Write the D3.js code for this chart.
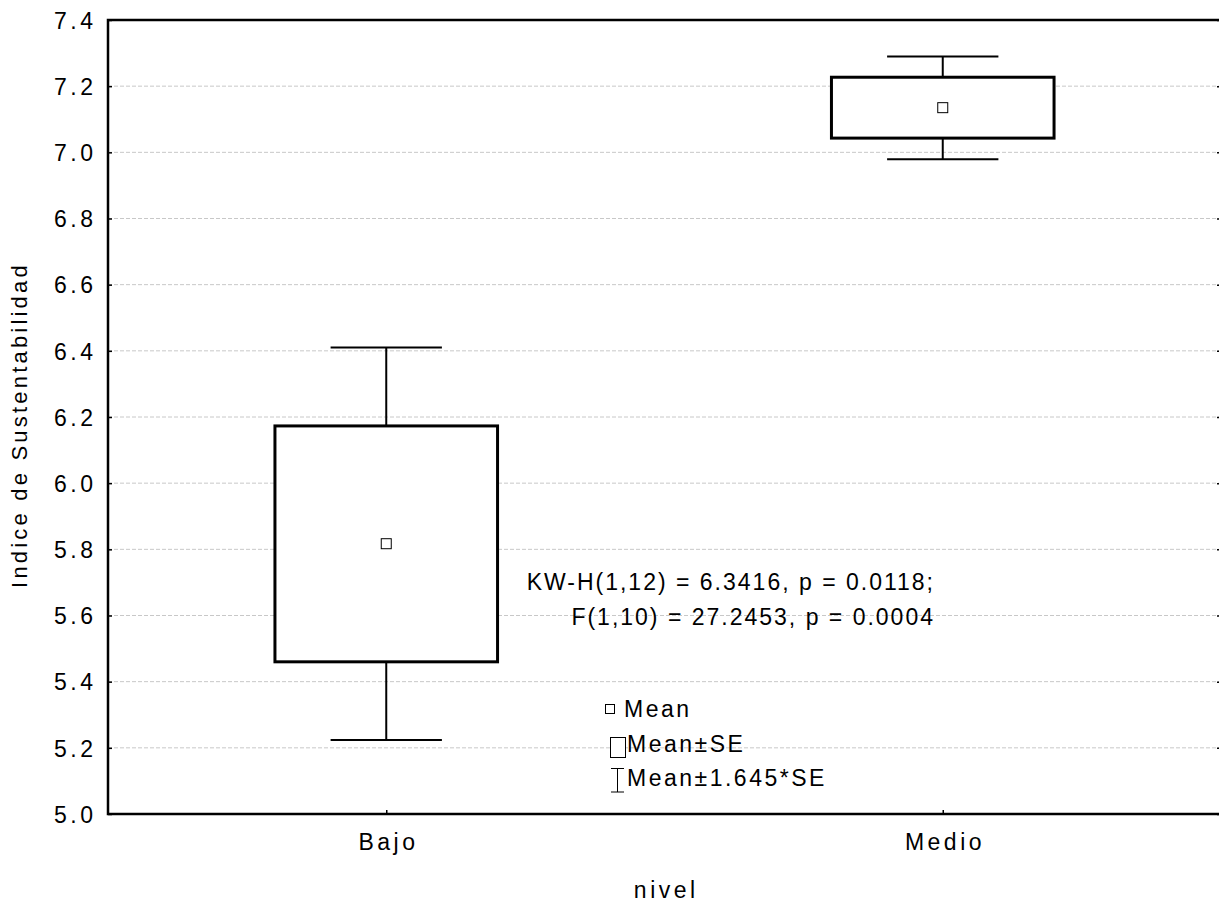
<!DOCTYPE html>
<html>
<head>
<meta charset="utf-8">
<script src="https://cdn.jsdelivr.net/npm/d3@7"></script>
<style>
  html, body { margin: 0; padding: 0; background: #ffffff; }
  svg { display: block; }
</style>
</head>
<body>
<svg id="chart"></svg>
<script>
// values
const categories = ['Bajo', 'Medio'];
const means = [5.817, 7.135];
const boxLow = [5.460, 7.043];
const boxHigh = [6.173, 7.227];
const whiskerLow = [5.224, 6.979];
const whiskerHigh = [6.410, 7.290];
const yTicks = [5.0, 5.2, 5.4, 5.6, 5.8, 6.0, 6.2, 6.4, 6.6, 6.8, 7.0, 7.2, 7.4];
const statLines = ['KW-H(1,12) = 6.3416, p = 0.0118;', 'F(1,10) = 27.2453, p = 0.0004'];
const legendLabels = ['Mean', 'Mean\u00b1SE', 'Mean\u00b11.645*SE'];

const width = 1219;
const height = 907;
const plotLeft = 108, plotRight = 1221, plotTop = 20, plotBottom = 814;
const FONT = 'Arial, "Liberation Sans", sans-serif';
const FS = '23px';
const LS = 3.5;

const svg = d3.select('#chart')
    .attr('width', width)
    .attr('height', height)
    .style('background', '#ffffff');

const x = d3.scalePoint()
    .domain(categories)
    .range([plotLeft, plotRight])
    .padding(0.5);

const y = d3.scaleLinear()
    .domain([5.0, 7.4])
    .range([plotBottom, plotTop]);

const step = x.step();
const boxW = step * 0.4;
const capW = step * 0.2;

// grid lines
svg.append('g')
    .selectAll('line')
    .data(yTicks.filter(t => t > 5.0 && t < 7.4))
    .join('line')
    .attr('x1', plotLeft)
    .attr('x2', plotRight)
    .attr('y1', d => y(d))
    .attr('y2', d => y(d))
    .attr('stroke', '#c8c8c8')
    .attr('stroke-width', 1)
    .attr('stroke-dasharray', '4,2');

// stats annotation
const stat = svg.append('text')
    .attr('font-family', FONT)
    .attr('font-size', FS)
    .attr('letter-spacing', '2px')
    .attr('text-anchor', 'end')
    .attr('fill', '#000');

statLines.forEach((line, i) => {
    stat.append('tspan')
        .attr('x', 935)
        .attr('y', 590 + i * 35)
        .text(line);
});

// axes
const yAxisLeft = d3.axisLeft(y).tickValues(yTicks).tickSize(-4).tickPadding(15)
    .tickFormat(d3.format('.1f'));
const yAxisRight = d3.axisRight(y).tickValues(yTicks).tickSize(-4).tickFormat('');
const xAxis = d3.axisBottom(x).tickSize(-4).tickPadding(20);

function styleAxis(g) {
    g.select('.domain').remove();
    g.selectAll('.tick line').attr('stroke', '#000').attr('stroke-width', 1.5);
    g.selectAll('.tick text')
        .attr('font-family', FONT)
        .attr('font-size', FS)
        .attr('letter-spacing', `${LS}px`)
        .attr('fill', '#000');
}

svg.append('g')
    .attr('transform', `translate(${plotLeft},0)`)
    .call(yAxisLeft)
    .call(styleAxis)
    .selectAll('.tick text')
    .attr('dx', `${LS}px`)
    .attr('dy', '0.36em');

svg.append('g')
    .attr('transform', `translate(${plotRight},0)`)
    .call(yAxisRight)
    .call(styleAxis);

svg.append('g')
    .attr('transform', `translate(0,${plotBottom})`)
    .call(xAxis)
    .call(styleAxis)
    .selectAll('.tick text')
    .attr('dx', `${LS / 2}px`);

// frame
svg.append('rect')
    .attr('x', plotLeft)
    .attr('y', plotTop)
    .attr('width', plotRight - plotLeft)
    .attr('height', plotBottom - plotTop)
    .attr('fill', 'none')
    .attr('stroke', '#000')
    .attr('stroke-width', 2.5);

// box plots
const groups = svg.append('g')
    .selectAll('g')
    .data(categories.map((c, i) => ({c, i})))
    .join('g');

groups.append('line')
    .attr('x1', d => x(d.c))
    .attr('x2', d => x(d.c))
    .attr('y1', d => y(whiskerHigh[d.i]))
    .attr('y2', d => y(whiskerLow[d.i]))
    .attr('stroke', '#000')
    .attr('stroke-width', 2);

groups.selectAll('line.cap')
    .data(d => [whiskerLow[d.i], whiskerHigh[d.i]].map(v => ({c: d.c, v})))
    .join('line')
    .attr('class', 'cap')
    .attr('x1', d => x(d.c) - capW / 2)
    .attr('x2', d => x(d.c) + capW / 2)
    .attr('y1', d => y(d.v))
    .attr('y2', d => y(d.v))
    .attr('stroke', '#000')
    .attr('stroke-width', 2);

groups.append('rect')
    .attr('x', d => x(d.c) - boxW / 2)
    .attr('y', d => y(boxHigh[d.i]))
    .attr('width', boxW)
    .attr('height', d => y(boxLow[d.i]) - y(boxHigh[d.i]))
    .attr('fill', '#fff')
    .attr('stroke', '#000')
    .attr('stroke-width', 3);

groups.append('rect')
    .attr('x', d => x(d.c) - 5)
    .attr('y', d => y(means[d.i]) - 5)
    .attr('width', 10)
    .attr('height', 10)
    .attr('fill', '#fff')
    .attr('stroke', '#000')
    .attr('stroke-width', 1);

// legend
const legend = svg.append('g');

legend.append('rect')
    .attr('x', 605.5).attr('y', 704.5)
    .attr('width', 9).attr('height', 9)
    .attr('fill', '#fff').attr('stroke', '#000').attr('stroke-width', 1);

legend.append('rect')
    .attr('x', 610.5).attr('y', 737.5)
    .attr('width', 15).attr('height', 20)
    .attr('fill', '#fff').attr('stroke', '#000').attr('stroke-width', 1);

legend.append('path')
    .attr('d', 'M611,768.5H624M617.5,768.5V792M611,792H624')
    .attr('fill', 'none').attr('stroke', '#000').attr('stroke-width', 1);

legend.selectAll('text')
    .data(legendLabels)
    .join('text')
    .attr('x', (d, i) => i === 0 ? 624 : 627)
    .attr('y', (d, i) => [717, 752, 786][i])
    .attr('font-family', FONT)
    .attr('font-size', FS)
    .attr('letter-spacing', '2.5px')
    .attr('fill', '#000')
    .text(d => d);

// axis titles
svg.append('text')
    .attr('x', (plotLeft + plotRight) / 2 + LS / 2)
    .attr('y', 898)
    .attr('text-anchor', 'middle')
    .attr('font-family', FONT)
    .attr('font-size', FS)
    .attr('letter-spacing', `${LS}px`)
    .attr('fill', '#000')
    .text('nivel');

svg.append('text')
    .attr('transform', `translate(27,${(plotTop + plotBottom) / 2 + 8}) rotate(-90)`)
    .attr('text-anchor', 'middle')
    .attr('font-family', FONT)
    .attr('font-size', '22px')
    .attr('letter-spacing', '3.2px')
    .attr('fill', '#000')
    .text('Indice de Sustentabilidad');
</script>
</body>
</html>
